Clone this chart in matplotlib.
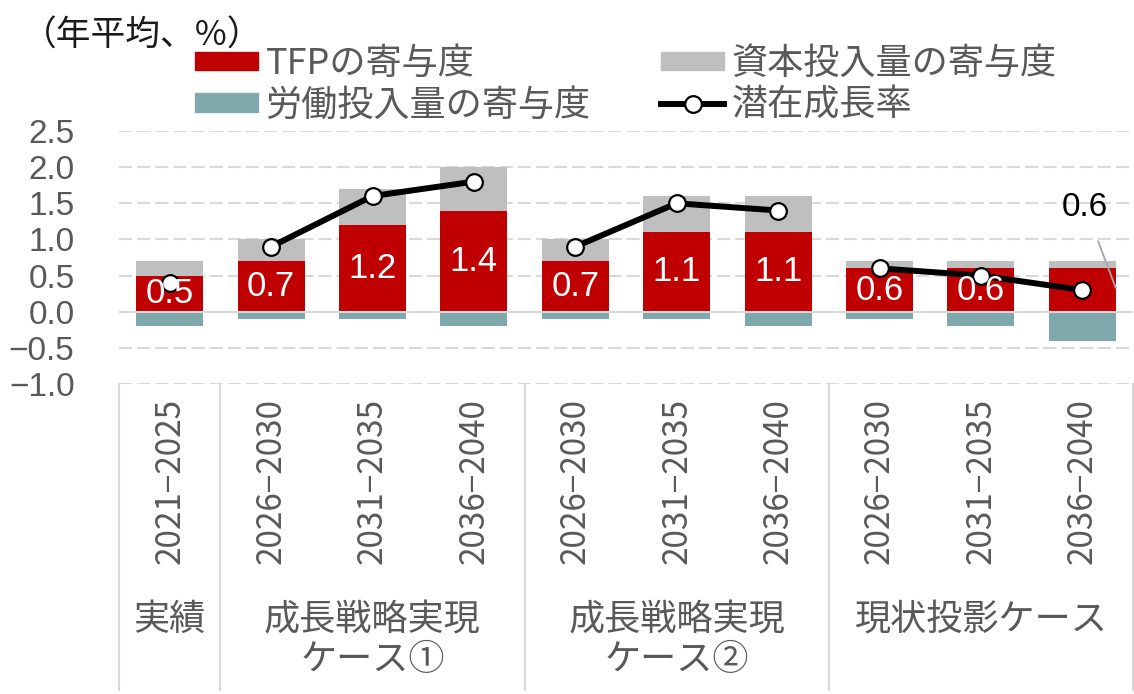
import matplotlib.pyplot as plt
from matplotlib.patches import Patch
from matplotlib.lines import Line2D
from matplotlib.ticker import FuncFormatter
import matplotlib.transforms as mtransforms
import numpy as np

plt.rcParams['font.family'] = ['Liberation Sans', 'Noto Sans CJK JP']

# データ
periods = ['2021−2025', '2026−2030', '2031−2035', '2036−2040',
           '2026−2030', '2031−2035', '2036−2040',
           '2026−2030', '2031−2035', '2036−2040']
groups = ['実績', '成長戦略実現\nケース①', '成長戦略実現\nケース②', '現状投影ケース']
group_sizes = [1, 3, 3, 3]
tfp = [0.5, 0.7, 1.2, 1.4, 0.7, 1.1, 1.1, 0.6, 0.6, 0.6]
capital = [0.2, 0.3, 0.5, 0.6, 0.3, 0.5, 0.5, 0.1, 0.1, 0.1]
labor = [-0.2, -0.1, -0.1, -0.2, -0.1, -0.1, -0.2, -0.1, -0.2, -0.4]
potential = [0.4, 0.9, 1.6, 1.8, 0.9, 1.5, 1.4, 0.6, 0.5, 0.3]

RED = '#C00000'
GRAY = '#BFBFBF'
TEAL = '#7FA8AD'
TXT = '#595959'
GRID = '#D9D9D9'

fig = plt.figure(figsize=(11.34, 6.94), dpi=100)
ax = fig.add_axes([119 / 1134, 1 - 384 / 694, (1133 - 119) / 1134, (384 - 131) / 694])

x = np.arange(len(periods))
w = 0.66

# 棒グラフ
b_tfp = ax.bar(x, tfp, w, color=RED, zorder=2)
ax.bar(x, capital, w, bottom=tfp, color=GRAY, zorder=2)
ax.bar(x, labor, w, color=TEAL, zorder=2)

# 潜在成長率の線（グループごと）
start = 0
for n in group_sizes:
    idx = x[start:start + n]
    ax.plot(idx, potential[start:start + n], color='black', lw=4.3, marker='o',
            ms=12, mfc='white', mec='black', mew=1.6, zorder=4)
    start += n

# TFPの数値ラベル
labels = [f'{v:.1f}' for v in tfp]
labels[-1] = ''
ax.bar_label(b_tfp, labels=labels, label_type='center', color='white', fontsize=25, zorder=5)
ax.annotate(f'{tfp[-1]:.1f}', xy=(x[-1] + 0.33, tfp[-1] * 0.55), xytext=(-22, 58),
            textcoords='offset points', ha='center', va='center', fontsize=24, color='black',
            arrowprops=dict(arrowstyle='-', color='#A6A6A6', lw=1.3, shrinkA=12, shrinkB=0))

# 軸
ax.set_xlim(-0.5, len(periods) - 0.5)
ax.set_ylim(-1.0, 2.5)
ax.set_yticks(np.arange(-1.0, 2.51, 0.5))
ax.yaxis.set_major_formatter(FuncFormatter(lambda v, p: f'{v:.1f}'.replace('-', '\u2212')))
ax.set_xticks(x)
ax.set_xticklabels(periods, rotation=90, fontsize=24, color=TXT,
                   family=['Noto Sans CJK JP'])
ax.tick_params(axis='y', length=0, pad=32, labelsize=24, labelcolor=TXT)
ax.tick_params(axis='x', length=0, pad=10)
for s in ax.spines.values():
    s.set_visible(False)
ax.yaxis.grid(True, ls=(0, (6.3, 2.4)), color=GRID, lw=1.5, zorder=0)
ax.set_axisbelow(True)
ax.axhline(0, color=GRID, lw=1.5, zorder=3)

# 区切り線とグループ名
trans = mtransforms.blended_transform_factory(ax.transData, ax.transAxes)
bounds = np.concatenate([[-0.5], np.cumsum(group_sizes) - 0.5])
for b in bounds:
    ax.plot([b, b], [0, -306 / 253], transform=trans, color=GRID, lw=1.5, clip_on=False)
ftrans = mtransforms.blended_transform_factory(ax.transData, fig.transFigure)
for g, lo, hi in zip(groups, bounds[:-1], bounds[1:]):
    fig.text((lo + hi) / 2, 1 - 602 / 694, g, transform=ftrans, ha='center', va='top',
             fontsize=26, color=TXT, linespacing=1.15, family=['Noto Sans CJK JP'])

# 単位
fig.text(22 / 1134, 1 - 36 / 694, '（年平均、%）', va='center', ha='left', fontsize=25,
         color='#1A1A1A', family=['Noto Sans CJK JP'])

# 凡例
handles = [Patch(color=RED), Patch(color=TEAL), Patch(color=GRAY),
           Line2D([], [], color='black', lw=4.3, marker='o', ms=12, mfc='white',
                  mec='black', mew=1.6)]
names = ['TFPの寄与度', '労働投入量の寄与度', '資本投入量の寄与度', '潜在成長率']
leg = fig.legend(handles, names, ncol=2, loc='upper left',
                 bbox_to_anchor=(195 / 1134, 1 - 46 / 694), frameon=False,
                 borderpad=0, borderaxespad=0, handlelength=1.75, handleheight=0.42,
                 handletextpad=0.2, columnspacing=1.95, labelspacing=0.15,
                 prop={'family': ['Noto Sans CJK JP'], 'size': 26})
for t in leg.get_texts():
    t.set_color(TXT)

fig.savefig('out.png', dpi=100)
